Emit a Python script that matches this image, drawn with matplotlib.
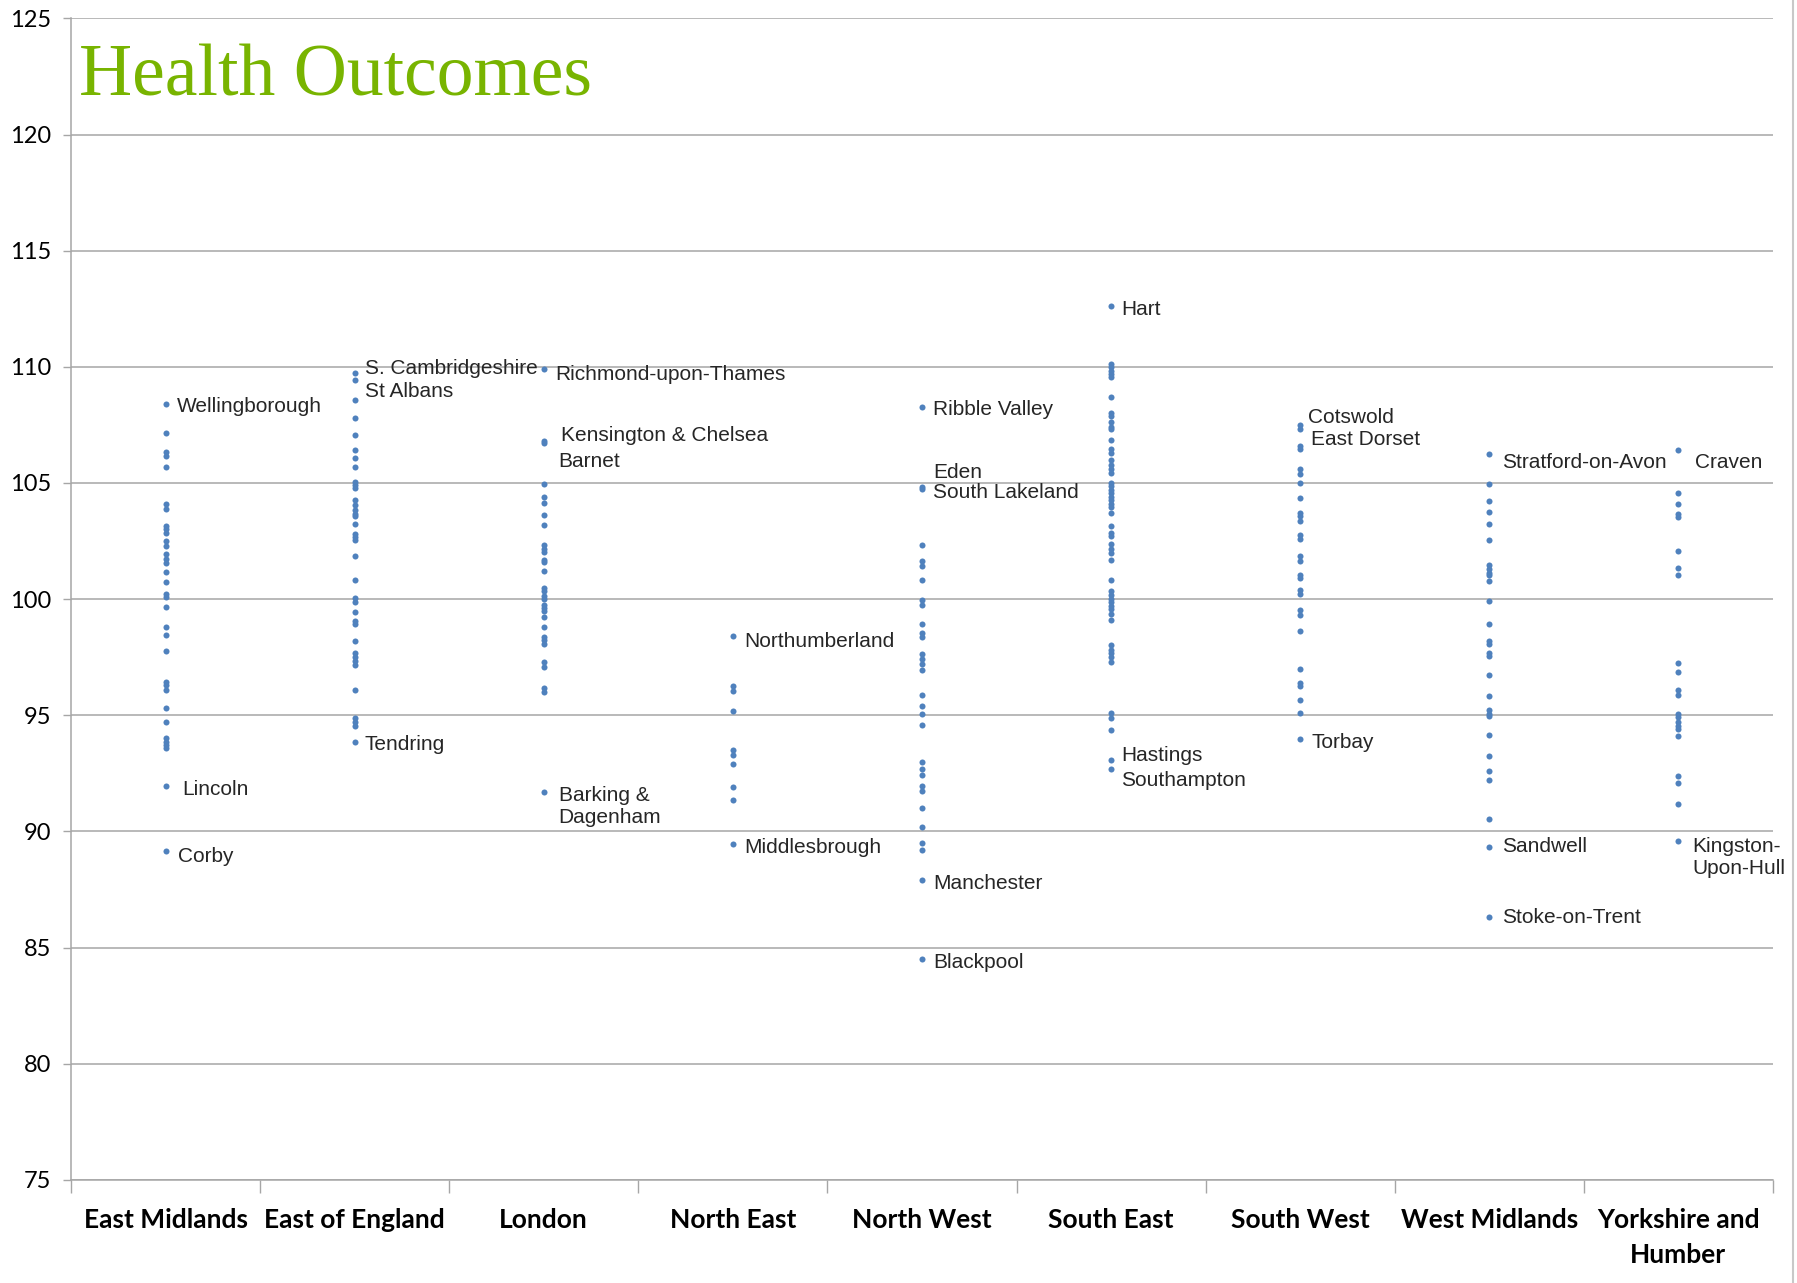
import numpy as np
import matplotlib.pyplot as plt
from matplotlib.lines import Line2D

regions = ["East Midlands", "East of England", "London", "North East", "North West",
           "South East", "South West", "West Midlands", "Yorkshire and\nHumber"]

east_midlands = [108.41, 107.14, 106.32, 106.16, 105.68, 104.09, 103.86, 103.16, 103.02, 102.84,
                 102.50, 102.27, 101.94, 101.74, 101.55, 101.18, 100.73, 100.23, 100.11, 99.66,
                 98.79, 98.45, 97.77, 96.45, 96.31, 96.09, 95.33, 94.73, 94.04, 93.87,
                 93.72, 93.58, 91.95, 89.18]
east_of_england = [109.74, 109.43, 108.56, 107.79, 107.05, 106.41, 106.06, 105.68, 105.04, 104.90,
                   104.78, 104.25, 104.04, 103.82, 103.68, 103.59, 103.25, 102.82, 102.66, 102.54,
                   101.87, 100.83, 100.04, 99.89, 99.43, 99.07, 98.92, 98.18, 97.67, 97.50,
                   97.34, 97.16, 96.09, 94.90, 94.73, 94.54, 93.86]
london = [109.89, 106.82, 106.72, 104.97, 104.40, 104.14, 103.64, 103.20, 102.31, 102.16,
          102.01, 101.70, 101.60, 101.22, 100.50, 100.36, 100.14, 100.00, 99.76, 99.61,
          99.51, 99.25, 98.82, 98.39, 98.25, 98.07, 97.31, 97.07, 96.16, 96.02, 91.68]
north_east = [98.42, 96.26, 96.05, 95.20, 93.51, 93.29, 92.90, 91.93, 91.35, 89.45]
north_west = [108.28, 104.84, 104.76, 102.33, 101.64, 101.44, 100.81, 99.96, 99.76, 98.91,
              98.54, 98.38, 97.65, 97.43, 97.19, 96.96, 95.87, 95.38, 95.06, 94.58,
              93.00, 92.71, 92.45, 91.96, 91.76, 91.01, 90.18, 89.49, 89.19, 87.91, 84.49]
south_east = [112.61, 110.14, 110.00, 109.84, 109.68, 109.55, 108.70, 108.02, 107.87, 107.63,
              107.43, 107.31, 106.84, 106.48, 106.28, 105.99, 105.79, 105.59, 105.45, 105.00,
              104.86, 104.70, 104.55, 104.41, 104.27, 104.11, 103.95, 103.72, 103.16, 102.83,
              102.73, 102.37, 102.17, 101.98, 101.70, 100.81, 100.36, 100.20, 100.00, 99.86,
              99.72, 99.57, 99.37, 99.11, 98.02, 97.83, 97.69, 97.49, 97.29, 95.12,
              94.88, 94.35, 93.08, 92.69]
south_west = [107.51, 107.31, 106.58, 106.48, 105.59, 105.40, 105.00, 104.35, 103.72, 103.56,
              103.36, 102.77, 102.57, 101.84, 101.64, 101.05, 100.91, 100.40, 100.22, 99.53,
              99.33, 98.62, 96.99, 96.40, 96.25, 95.65, 95.12, 93.97]
west_midlands = [106.26, 104.97, 104.23, 103.77, 103.22, 102.55, 101.48, 101.29, 101.14, 101.02,
                 100.78, 99.91, 98.95, 98.22, 98.06, 97.68, 97.57, 96.75, 95.82, 95.22,
                 95.06, 94.95, 94.17, 93.26, 92.60, 92.22, 90.52, 89.34, 86.34]
yorkshire = [106.42, 104.57, 104.09, 103.65, 103.52, 102.06, 101.32, 101.06, 97.26, 96.88,
             96.09, 95.88, 95.06, 94.91, 94.71, 94.55, 94.40, 94.09, 92.40, 92.09,
             91.17, 89.57]

series = [east_midlands, east_of_england, london, north_east, north_west,
          south_east, south_west, west_midlands, yorkshire]

# named authorities: (region index, value, name)
labels = [
    (0, 108.41, "Wellingborough"), (0, 91.95, "Lincoln"), (0, 89.18, "Corby"),
    (1, 109.74, "S. Cambridgeshire"), (1, 109.43, "St Albans"), (1, 93.86, "Tendring"),
    (2, 109.89, "Richmond-upon-Thames"), (2, 106.82, "Kensington & Chelsea"),
    (2, 106.72, "Barnet"), (2, 91.68, "Barking &\nDagenham"),
    (3, 98.42, "Northumberland"), (3, 89.45, "Middlesbrough"),
    (4, 108.28, "Ribble Valley"), (4, 104.84, "Eden"), (4, 104.76, "South Lakeland"),
    (4, 87.91, "Manchester"), (4, 84.49, "Blackpool"),
    (5, 112.61, "Hart"), (5, 93.08, "Hastings"), (5, 92.69, "Southampton"),
    (6, 107.51, "Cotswold"), (6, 107.31, "East Dorset"), (6, 93.97, "Torbay"),
    (7, 106.26, "Stratford-on-Avon"), (7, 89.34, "Sandwell"), (7, 86.34, "Stoke-on-Trent"),
    (8, 106.42, "Craven"), (8, 89.57, "Kingston-\nUpon-Hull"),
]

# label offsets in pixels (dx, dy)
offsets = {
    "Wellingborough": (11, 0), "Lincoln": (17, 0), "Corby": (12, -3),
    "S. Cambridgeshire": (10, 7), "St Albans": (10, -8), "Tendring": (10, 0),
    "Richmond-upon-Thames": (12, -2), "Kensington & Chelsea": (17, 8), "Barnet": (15, -15),
    "Barking &\nDagenham": (15, -11), "Northumberland": (11, -3), "Middlesbrough": (11, 0),
    "Ribble Valley": (11, 0), "Eden": (11, 17), "South Lakeland": (11, -1),
    "Manchester": (11, 0), "Blackpool": (11, 0), "Hart": (10, 0),
    "Hastings": (10, 7), "Southampton": (10, -9), "Cotswold": (8, 10),
    "East Dorset": (11, -7), "Torbay": (11, 0), "Stratford-on-Avon": (13, -6),
    "Sandwell": (13, 3), "Stoke-on-Trent": (13, 2), "Craven": (17, -9),
    "Kingston-\nUpon-Hull": (14, -13),
}

fig = plt.figure(figsize=(17.97, 12.83), dpi=100)
ax = fig.add_axes([0.0395, 0.0803, 0.9471, 0.9054])

for i, vals in enumerate(series):
    ax.scatter(np.full(len(vals), i), vals, s=19, color='#4F81BD', zorder=3, linewidths=0)

for i, v, name in labels:
    dx, dy = offsets[name]
    ax.annotate(name, (i, v), xytext=(dx, dy - 3), textcoords='offset pixels',
                ha='left', va='center', fontsize=15, family='Liberation Sans',
                color='#262626', linespacing=1.15, zorder=4)

ax.set_xlim(-0.5, 8.5)
ax.set_ylim(75, 125)
ax.set_yticks(np.arange(75, 126, 5))
ax.yaxis.grid(True, color='#a6a6a6', lw=1.1)
ax.set_axisbelow(True)

ax.set_xticks(range(len(regions)))
ax.set_xticklabels(regions, fontsize=19, fontweight='bold', family='Lato', linespacing=1.55)
ax.set_xticks(np.arange(-0.5, 9, 1), minor=True)
ax.tick_params(axis='x', which='major', length=0, pad=20)
ax.tick_params(axis='x', which='minor', length=9, color='#a6a6a6', width=1)
ax.tick_params(axis='y', length=6, color='#a6a6a6', width=1, labelsize=17, pad=8)
for lab in ax.get_yticklabels():
    lab.set_family('Lato')

for s in ['top', 'right']:
    ax.spines[s].set_visible(False)
ax.spines['left'].set_color('#a6a6a6')
ax.spines['bottom'].set_color('#a6a6a6')
ax.spines['left'].set_linewidth(1.1)
ax.spines['bottom'].set_linewidth(1.1)

ax.text(0.005, 0.949, "Health Outcomes", transform=ax.transAxes, fontsize=53,
        family='Liberation Serif', color='#78B400', ha='left', va='center')

fig.add_artist(Line2D([0.9975, 0.9975], [0.0, 1.0], color='#c8c8c8', lw=1.5,
                      transform=fig.transFigure))

plt.savefig('out.png', dpi=100)
